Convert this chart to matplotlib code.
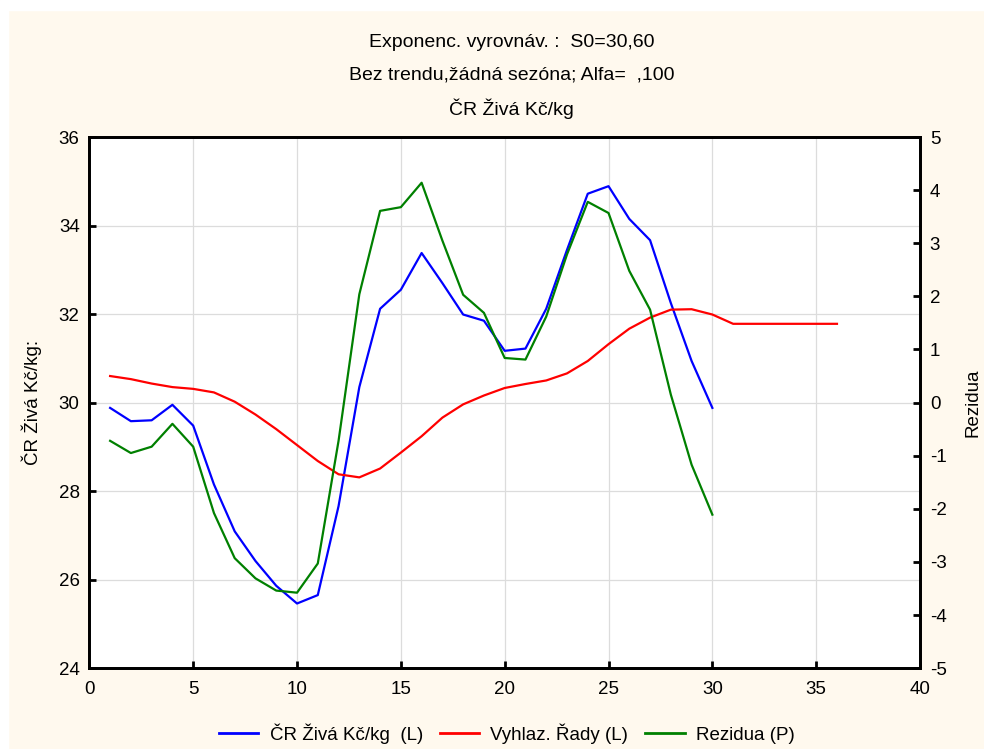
import numpy as np
import matplotlib.pyplot as plt
from matplotlib.lines import Line2D
from matplotlib.patches import Rectangle

# time index of the series
t = list(range(1, 31))
t_fc = list(range(1, 37))

# CR Ziva Kc/kg (left axis)
ziva = [29.88, 29.58, 29.60, 29.95, 29.48, 28.15, 27.09, 26.42, 25.86, 25.46,
        25.65, 27.66, 30.35, 32.12, 32.55, 33.38, 32.70, 31.99, 31.85, 31.17,
        31.22, 32.12, 33.45, 34.72, 34.89, 34.15, 33.67, 32.25, 30.94, 29.88]

# smoothed series incl. forecast (left axis)
vyhlaz = [30.60, 30.53, 30.43, 30.35, 30.31, 30.23, 30.02, 29.73, 29.40, 29.04,
          28.68, 28.38, 28.31, 28.51, 28.87, 29.24, 29.66, 29.96, 30.16, 30.33,
          30.42, 30.50, 30.66, 30.94, 31.32, 31.67, 31.92, 32.10, 32.11, 31.99,
          31.78, 31.78, 31.78, 31.78, 31.78, 31.78]

# residuals (right axis)
rezidua = [-0.72, -0.95, -0.83, -0.40, -0.83, -2.08, -2.93, -3.31, -3.54, -3.58,
           -3.03, -0.72, 2.04, 3.61, 3.68, 4.14, 3.05, 2.03, 1.69, 0.84,
           0.81, 1.62, 2.79, 3.78, 3.57, 2.48, 1.75, 0.15, -1.17, -2.11]

bg = '#fff9ee'
plt.rcParams['font.family'] = ['Liberation Sans', 'DejaVu Sans']
plt.rcParams['axes.unicode_minus'] = False

fig = plt.figure(figsize=(9.84, 7.49), dpi=100, facecolor=bg)
# white strip along top and left edge
fig.patches.append(Rectangle((0, 0.987), 1, 0.013, transform=fig.transFigure,
                             color='white', zorder=0))
fig.patches.append(Rectangle((0, 0), 0.008, 1, transform=fig.transFigure,
                             color='white', zorder=0))

ax = fig.add_axes([0.0908, 0.108, 0.8442, 0.709])
ax.set_facecolor('white')
ax2 = ax.twinx()

ax.plot(t, ziva, color='#0000ff', lw=1.6, zorder=3)
ax.plot(t_fc, vyhlaz, color='#ff0000', lw=1.6, zorder=3)
ax2.plot(t, rezidua, color='#008000', lw=1.6, zorder=3)

ax.set_xlim(0, 40)
ax.set_ylim(24, 36)
ax2.set_ylim(-5, 5)
ax.set_xticks(range(0, 41, 5))
ax.set_yticks(range(24, 37, 2))
ax2.set_yticks(range(-5, 6, 1))

ax.grid(True, color='#dcdcdc', lw=0.9)
ax.set_axisbelow(True)

for a in (ax, ax2):
    for s in a.spines.values():
        s.set_linewidth(2)
        s.set_color('black')
ax.tick_params(axis='both', direction='in', length=5, width=2, labelsize=13.5, pad=7)
ax.tick_params(axis='x', pad=9)
ax2.tick_params(axis='y', direction='in', length=5, width=2, labelsize=13.5, pad=7)

ax.set_ylabel('ČR Živá Kč/kg:', fontsize=13.5, labelpad=12)
fig.text(0.989, 0.462, 'Rezidua', rotation=90, fontsize=13.5,
         ha='center', va='center')

fig.text(0.52, 0.943, 'Exponenc. vyrovnáv. :  S0=30,60', ha='center', va='center',
         fontsize=14)
fig.text(0.52, 0.900, 'Bez trendu,žádná sezóna; Alfa=  ,100', ha='center', va='center',
         fontsize=14)
fig.text(0.52, 0.855, 'ČR Živá Kč/kg', ha='center', va='center', fontsize=14)

handles = [Line2D([], [], color='#0000ff', lw=2),
           Line2D([], [], color='#ff0000', lw=2),
           Line2D([], [], color='#008000', lw=2)]
labels = ['ČR Živá Kč/kg  (L)', 'Vyhlaz. Řady (L)', 'Rezidua (P)']
fig.legend(handles, labels, loc='center', bbox_to_anchor=(0.515, 0.021), ncol=3,
           frameon=False, handlelength=2.1, handletextpad=0.6, columnspacing=0.9,
           prop={'size': 13.5})

fig.savefig('out.png', dpi=100, facecolor=bg)
